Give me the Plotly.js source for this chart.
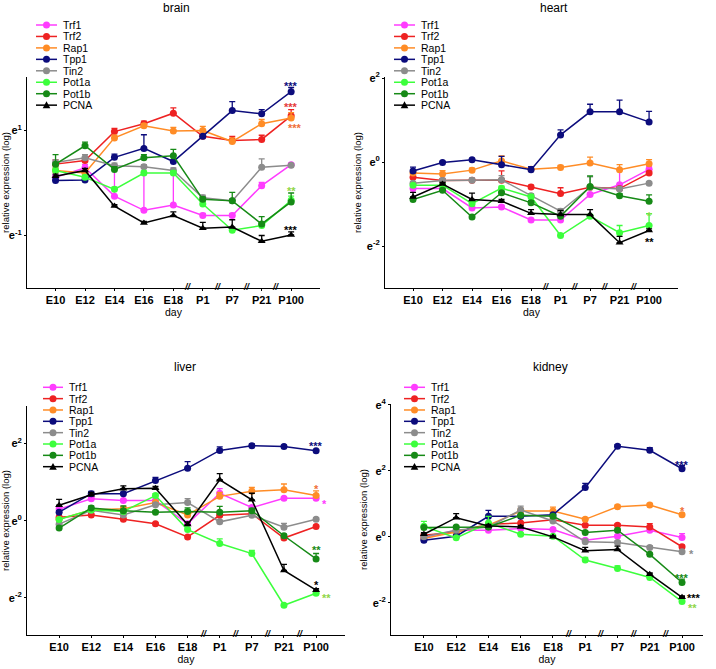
<!DOCTYPE html>
<html><head><meta charset="utf-8">
<script src="https://cdn.plot.ly/plotly-3.0.1.min.js"></script>
<style>html,body{margin:0;padding:0;background:#fff}#chart{width:716px;height:669px}</style>
</head><body><div id="chart"></div>
<script>
// ---------- data (natural-log relative expression) ----------
const days = ['E10','E12','E14','E16','E18','P1','P7','P21','P100'];
const genes = ['Trf1','Trf2','Rap1','Tpp1','Tin2','Pot1a','Pot1b','PCNA'];
const geneColors = ['#ff3cff','#ee2222','#ff8c26','#0c0c7c','#8c8c8c','#3cff3c','#168a16','#000000'];

// rows follow `genes`
const brainValues = [
  [0.11, 0.29, -0.25, -0.52, -0.42, -0.62, -0.62, -0.05, 0.35],
  [0.36, 0.43, 0.98, 1.13, 1.33, 0.89, 0.81, 0.83, 1.28],
  [0.24, 0.19, 0.86, 1.09, 0.99, 1.00, 0.79, 1.13, 1.24],
  [0.05, 0.06, 0.49, 0.66, 0.41, 0.89, 1.38, 1.32, 1.74],
  [0.39, 0.48, 0.33, 0.31, 0.24, -0.28, -0.34, 0.30, 0.34],
  [0.24, 0.11, -0.12, 0.19, 0.19, -0.40, -0.90, -0.81, -0.33],
  [0.36, 0.71, 0.26, 0.48, 0.52, -0.31, -0.34, -0.78, -0.36],
  [0.13, 0.24, -0.44, -0.76, -0.62, -0.86, -0.84, -1.11, -0.99]
];
const brainErrors = [
  [0.05, 0.06, 0.60, 0.72, 0.62, 0.04, 0.04, 0.06, 0.03],
  [0.08, 0.05, 0.06, 0.05, 0.10, 0.08, 0.08, 0.08, 0.12],
  [0.05, 0.05, 0.05, 0.04, 0.07, 0.08, 0.07, 0.08, 0.10],
  [0.03, 0.03, 0.06, 0.26, 0.03, 0.03, 0.17, 0.08, 0.08],
  [0.05, 0.06, 0.05, 0.04, 0.05, 0.05, 0.04, 0.16, 0.03],
  [0.05, 0.04, 0.04, 0.04, 0.04, 0.04, 0.05, 0.05, 0.08],
  [0.18, 0.07, 0.05, 0.06, 0.12, 0.04, 0.16, 0.14, 0.17],
  [0.04, 0.04, 0.03, 0.03, 0.07, 0.11, 0.14, 0.11, 0.06]
];
const heartValues = [
  [-0.63, -0.63, -1.09, -1.07, -1.38, -1.38, -0.77, -0.54, -0.17],
  [-0.36, -0.44, -0.43, -0.43, -0.59, -0.75, -0.60, -0.63, -0.26],
  [-0.26, -0.28, -0.19, 0.03, -0.17, -0.13, -0.02, -0.18, -0.04],
  [-0.21, -0.01, 0.06, -0.06, -0.18, 0.65, 1.20, 1.20, 0.96],
  [-0.50, -0.44, -0.43, -0.42, -0.80, -1.17, -0.60, -0.64, -0.50],
  [-0.55, -0.55, -0.99, -0.62, -0.83, -1.75, -1.29, -1.68, -1.51],
  [-0.89, -0.67, -1.31, -0.73, -0.97, -1.29, -0.58, -0.80, -0.93],
  [-0.83, -0.52, -0.89, -0.93, -1.22, -1.25, -1.25, -1.92, -1.63]
];
const heartErrors = [
  [0.03, 0.03, 0.04, 0.04, 0.04, 0.04, 0.04, 0.35, 0.06],
  [0.04, 0.04, 0.04, 0.22, 0.04, 0.14, 0.04, 0.04, 0.04],
  [0.03, 0.08, 0.05, 0.12, 0.05, 0.05, 0.14, 0.12, 0.10],
  [0.09, 0.03, 0.03, 0.20, 0.07, 0.12, 0.18, 0.28, 0.25],
  [0.03, 0.05, 0.05, 0.10, 0.05, 0.06, 0.25, 0.05, 0.03],
  [0.03, 0.03, 0.06, 0.05, 0.06, 0.04, 0.04, 0.17, 0.28],
  [0.03, 0.03, 0.04, 0.03, 0.05, 0.04, 0.25, 0.05, 0.15],
  [0.11, 0.04, 0.15, 0.04, 0.09, 0.10, 0.12, 0.15, 0.04]
];
const liverValues = [
  [0.30, 0.57, 0.52, 0.52, -0.08, 0.71, 0.34, 0.58, 0.58],
  [0.09, 0.15, 0.04, -0.08, -0.42, 0.14, 0.18, -0.45, -0.15],
  [0.04, 0.28, 0.31, 0.47, 0.15, 0.63, 0.76, 0.80, 0.65],
  [0.22, 0.70, 0.70, 1.04, 1.36, 1.82, 1.94, 1.92, 1.81],
  [-0.09, 0.27, 0.15, 0.41, 0.47, -0.03, 0.14, -0.17, 0.04],
  [0.03, 0.28, 0.24, 0.65, -0.23, -0.59, -0.85, -2.19, -1.88],
  [-0.19, 0.33, 0.26, 0.22, 0.24, 0.22, 0.26, -0.39, -0.99],
  [0.40, 0.67, 0.83, 0.84, -0.10, 1.06, 0.54, -1.29, -1.80]
];
const liverErrors = [
  [0.03, 0.03, 0.03, 0.04, 0.04, 0.12, 0.04, 0.04, 0.04],
  [0.03, 0.03, 0.03, 0.03, 0.03, 0.03, 0.03, 0.03, 0.03],
  [0.03, 0.03, 0.05, 0.03, 0.05, 0.10, 0.10, 0.15, 0.12],
  [0.04, 0.06, 0.04, 0.08, 0.17, 0.09, 0.05, 0.03, 0.03],
  [0.03, 0.05, 0.04, 0.05, 0.10, 0.04, 0.04, 0.10, 0.04],
  [0.04, 0.04, 0.04, 0.05, 0.04, 0.12, 0.08, 0.04, 0.04],
  [0.03, 0.05, 0.12, 0.04, 0.09, 0.15, 0.06, 0.04, 0.14],
  [0.15, 0.06, 0.07, 0.05, 0.07, 0.16, 0.17, 0.16, 0.04]
];
const kidneyValues = [
  [-0.02, 0.20, 0.20, 0.25, 0.22, -0.10, 0.02, 0.20, -0.02],
  [0.05, 0.15, 0.38, 0.42, 0.52, 0.35, 0.35, 0.30, -0.30],
  [-0.05, 0.15, 0.35, 0.78, 0.78, 0.53, 0.91, 0.96, 0.67],
  [-0.10, 0.02, 0.62, 0.62, 0.67, 1.49, 2.74, 2.62, 2.06],
  [0.00, 0.20, 0.30, 0.81, 0.48, -0.15, -0.17, -0.32, -0.45],
  [0.32, -0.03, 0.42, 0.08, 0.02, -0.70, -0.96, -1.23, -1.96],
  [0.28, 0.30, 0.30, 0.65, 0.62, 0.13, 0.20, -0.53, -1.38],
  [0.08, 0.58, 0.33, 0.30, 0.00, -0.42, -0.38, -1.13, -1.83]
];
const kidneyErrors = [
  [0.03, 0.03, 0.03, 0.03, 0.04, 0.04, 0.04, 0.04, 0.12],
  [0.03, 0.03, 0.03, 0.16, 0.05, 0.04, 0.04, 0.10, 0.05],
  [0.04, 0.04, 0.04, 0.08, 0.12, 0.05, 0.05, 0.05, 0.05],
  [0.03, 0.03, 0.18, 0.03, 0.03, 0.13, 0.05, 0.08, 0.10],
  [0.03, 0.03, 0.03, 0.12, 0.12, 0.08, 0.05, 0.05, 0.03],
  [0.15, 0.03, 0.20, 0.03, 0.03, 0.08, 0.08, 0.04, 0.04],
  [0.04, 0.03, 0.05, 0.04, 0.04, 0.04, 0.04, 0.04, 0.10],
  [0.05, 0.12, 0.05, 0.05, 0.03, 0.10, 0.10, 0.04, 0.04]
];
// significance marks at P100: [gene, label]
const brainStars  = [['Tpp1','***'],['Trf2','***'],['Rap1','***'],['Pot1a','**'],['PCNA','***']];
const heartStars  = [['Pot1a','*'],['PCNA','**']];
const liverStars  = [['Tpp1','***'],['Rap1','*'],['Trf1','*'],['Pot1b','**'],['PCNA','*'],['Pot1a','**']];
const kidneyStars = [['Tpp1','***'],['Rap1','*'],['Tin2','*'],['Pot1b','***'],['PCNA','***'],['Pot1a','**']];

// ---------- layout / style ----------
const W = 716, H = 669;
const FONT = 'Liberation Sans, Arial, Helvetica, sans-serif';
const starColors = {Trf1:'#ff3cff', Trf2:'#e53a3a', Rap1:'#f07038', Tpp1:'#0c0c7c', Tin2:'#8c8c8c', Pot1a:'#8fd64a', Pot1b:'#168a16', PCNA:'#000000'};
// star offsets in px: [dx, dy(up)] per panel/gene
const starOffsets = {
  brain:  {Tpp1:[0,8], Trf2:[0,11], Rap1:[4,-8], Pot1a:[0,12], PCNA:[0,7]},
  heart:  {Pot1a:[0,12], PCNA:[0,-9]},
  liver:  {Tpp1:[0,7], Rap1:[0,9], Trf1:[8,-3], Pot1b:[0,11], PCNA:[0,8], Pot1a:[10,-2]},
  kidney: {Tpp1:[0,6], Rap1:[0,6], Tin2:[9,0], Pot1b:[0,7], PCNA:[12,2], Pot1a:[10,-4]}
};
const panels = [
  {name:'brain',  vals:brainValues,  errs:brainErrors,  stars:brainStars,  yr:[-2,2.02], yt:[-1,1],
   xr:[-0.97,8.98], px:[27,320], py:[77,288], leg:{l0:36,l1:57,tx:61,y0:25,dy:11.45}, title:[176,8]},
  {name:'heart',  vals:heartValues,  errs:heartErrors,  stars:heartStars,  yr:[-3,2.03], yt:[-2,0,2],
   xr:[-0.95,8.98], px:[385,678], py:[77,288], leg:{l0:394,l1:415,tx:419,y0:25,dy:11.45}, title:[554,8]},
  {name:'liver',  vals:liverValues,  errs:liverErrors,  stars:liverStars,  yr:[-2.96,2.97], yt:[-2,0,2],
   xr:[-1.0,8.9], px:[27,345], py:[406,635], leg:{l0:43,l1:63,tx:67,y0:387.3,dy:11.34}, title:[185,367]},
  {name:'kidney', vals:kidneyValues, errs:kidneyErrors, stars:kidneyStars, yr:[-2.97,4.02], yt:[-2,0,2,4],
   xr:[-1.02,8.65], px:[391,703], py:[404,635], leg:{l0:404,l1:425,tx:429,y0:387.3,dy:11.34}, title:[550,367]}
];

const traces = [], shapes = [], annotations = [];
const layout = {width:W, height:H, margin:{l:0,r:0,t:0,b:0}, paper_bgcolor:'#fff', plot_bgcolor:'rgba(0,0,0,0)',
  showlegend:false, font:{family:FONT, color:'#000'}};

panels.forEach((p, k) => {
  const n = k + 1, xa = 'x' + n, ya = 'y' + n;
  genes.forEach((g, i) => {
    const c = geneColors[i];
    traces.push({
      type:'scatter', mode:'lines+markers', name:g, x:days, y:p.vals[i], xaxis:xa, yaxis:ya,
      line:{color:c, width:1.5},
      marker:{color:c, size:7, symbol: g === 'PCNA' ? 'triangle-up' : 'circle', line:{width:0}},
      error_y:{type:'data', symmetric:false, array:p.errs[i], arrayminus:p.errs[i].map(() => 0),
               color:c, thickness:1.3, width:3},
      hoverinfo:'skip'
    });
  });
  layout['xaxis' + n] = {
    domain:[p.px[0]/W, p.px[1]/W], anchor:ya, type:'category', categoryorder:'array', categoryarray:days,
    range:p.xr, showline:true, linecolor:'#000', linewidth:1, ticks:'outside', ticklen:2, tickcolor:'#000',
    tickfont:{family:FONT, size:11, weight:'bold', color:'#000'}, showgrid:false, zeroline:false,
    title:{text:'day', font:{family:FONT, size:10.5, color:'#000'}, standoff:2}, fixedrange:true
  };
  layout['yaxis' + n] = {
    domain:[1 - p.py[1]/H, 1 - p.py[0]/H], anchor:xa, range:p.yr, tickvals:p.yt,
    ticktext:p.yt.map(v => 'e<sup>' + v + '</sup>'),
    showline:true, linecolor:'#000', linewidth:1, ticks:'outside', ticklen:2, tickcolor:'#000',
    tickfont:{family:FONT, size:11, weight:'bold', color:'#000'}, showgrid:false, zeroline:false,
    title:{text:'relative expression (log)', font:{family:FONT, size:9.5, color:'#000'}, standoff:3}, fixedrange:true
  };
  // panel title
  annotations.push({xref:'paper', yref:'paper', x:p.title[0]/W, y:1 - p.title[1]/H, xanchor:'center', yanchor:'middle',
    text:p.name, showarrow:false, font:{family:FONT, size:12, color:'#000'}});
  // axis break marks between E18|P1|P7|P21|P100
  days.slice(5).forEach((d, j) => {
    annotations.push({xref:xa, yref:ya + ' domain', x:4.5 + j, y:0, xanchor:'center', yanchor:'middle', yshift:1,
      text:'<b><i>//</i></b>', showarrow:false, font:{family:FONT, size:9, color:'#000'}});
  });
  // legend (drawn manually to match compact spacing)
  genes.forEach((g, i) => {
    const yy = 1 - (p.leg.y0 + i * p.leg.dy) / H, c = geneColors[i];
    const mx = ((p.leg.l0 + p.leg.l1) / 2) / W;
    shapes.push({type:'line', xref:'paper', yref:'paper', x0:p.leg.l0/W, x1:p.leg.l1/W, y0:yy, y1:yy,
      line:{color:c, width:1.5}});
    if (g === 'PCNA') {
      shapes.push({type:'path', xref:'paper', yref:'paper', xsizemode:'pixel', ysizemode:'pixel', xanchor:mx, yanchor:yy,
        path:'M -3.8,-3 L 3.8,-3 L 0,3.8 Z', fillcolor:c, line:{width:0}});
    } else {
      shapes.push({type:'circle', xref:'paper', yref:'paper', xsizemode:'pixel', ysizemode:'pixel', xanchor:mx, yanchor:yy,
        x0:-3.5, x1:3.5, y0:-3.5, y1:3.5, fillcolor:c, line:{width:0}});
    }
    annotations.push({xref:'paper', yref:'paper', x:p.leg.tx/W, y:yy, xanchor:'left', yanchor:'middle',
      text:g, showarrow:false, font:{family:FONT, size:10.5, color:'#000'}});
  });
  // significance stars
  p.stars.forEach(([g, lab]) => {
    const i = genes.indexOf(g), off = starOffsets[p.name][g];
    annotations.push({xref:xa, yref:ya, x:'P100', y:p.vals[i][8], xanchor:'center', yanchor:'middle',
      xshift:off[0], yshift:off[1] - 2.5, text:lab, showarrow:false,
      font:{family:FONT, size:11, weight:'bold', color:starColors[g]}});
  });
});
layout.shapes = shapes;
layout.annotations = annotations;
Plotly.newPlot('chart', traces, layout, {displayModeBar:false, staticPlot:true});
</script></body></html>
